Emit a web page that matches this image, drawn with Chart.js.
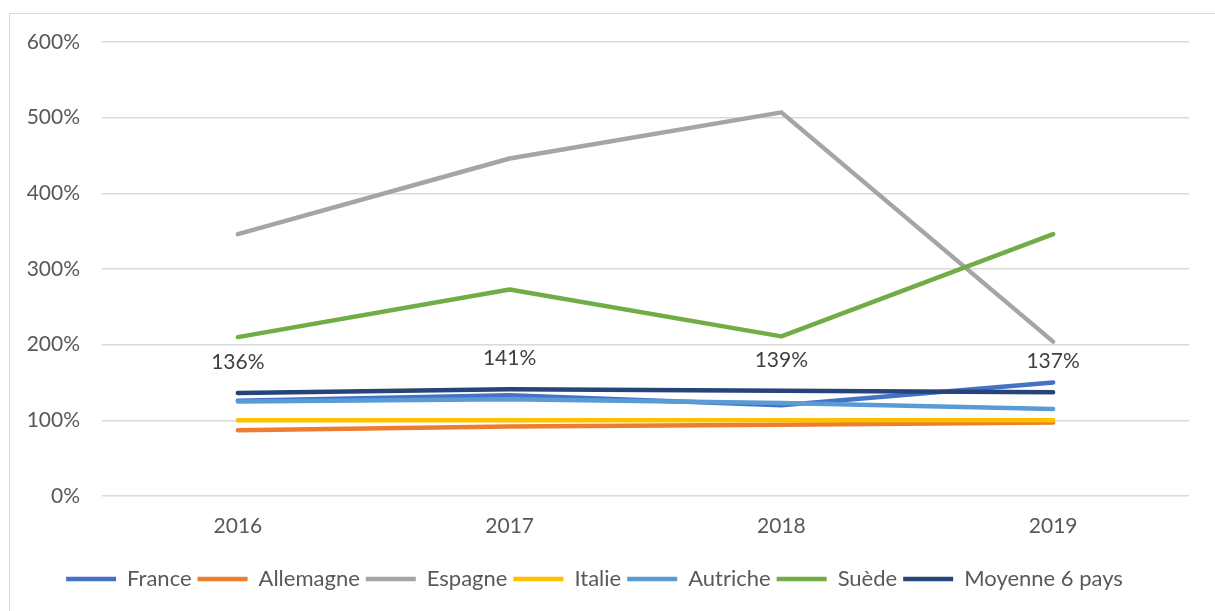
<!DOCTYPE html>
<html>
<head>
<meta charset="utf-8">
<script src="https://cdn.jsdelivr.net/npm/chart.js@4.4.1/dist/chart.umd.min.js"></script>
<style>
  html, body { margin: 0; padding: 0; background: #fff; }
  #frame { position: absolute; left: 9px; top: 13px; width: 1220px; height: 620px;
           border: 1px solid #d9d9d9; box-sizing: border-box; }
  #wrap { position: absolute; left: 0; top: 0; width: 1215px; height: 611px; }
</style>
</head>
<body>
<div id="frame"></div>
<div id="wrap"><canvas id="chart"></canvas></div>
<script>
// years on the x axis
const years = ['2016', '2017', '2018', '2019'];

// values in %
const france    = [126, 133, 120, 150];
const allemagne = [87, 92, 94, 97];
const espagne   = [346, 446, 507, 204];
const italie    = [100, 100, 100, 100];
const autriche  = [125, 128, 123, 115];
const suede     = [210, 273, 211, 346];
const moyenne   = [136, 141, 139, 137];

const seriesNames  = ['France', 'Allemagne', 'Espagne', 'Italie', 'Autriche', 'Suède', 'Moyenne 6 pays'];
const seriesData   = [france, allemagne, espagne, italie, autriche, suede, moyenne];
const seriesColors = ['#4472C4', '#ED7D31', '#A5A5A5', '#FFC000', '#5B9BD5', '#70AD47', '#264478'];

const yTicks = [0, 100, 200, 300, 400, 500, 600];

const FONT = 'Lato, "Open Sans", sans-serif';

// labels above the average line
const avgLabels = {
  id: 'avgLabels',
  afterDatasetsDraw(chart) {
    const idx = seriesNames.length - 1;
    const meta = chart.getDatasetMeta(idx);
    const ctx = chart.ctx;
    ctx.save();
    ctx.font = '21px ' + FONT;
    ctx.fillStyle = '#404040';
    ctx.textAlign = 'center';
    ctx.textBaseline = 'middle';
    meta.data.forEach((pt, i) => {
      ctx.fillText(moyenne[i] + '%', pt.x, pt.y - 31);
    });
    ctx.restore();
  }
};

const n = seriesNames.length;
new Chart(document.getElementById('chart'), {
  type: 'line',
  data: {
    labels: years,
    datasets: seriesNames.map((name, i) => ({
      label: name,
      data: seriesData[i],
      borderColor: seriesColors[i],
      backgroundColor: seriesColors[i],
      borderWidth: 4.5,
      borderCapStyle: 'round',
      borderJoinStyle: 'round',
      pointRadius: 0,
      tension: 0,
      order: n - i
    }))
  },
  options: {
    responsive: true,
    maintainAspectRatio: false,
    animation: false,
    layout: { padding: { top: 42, right: 26, bottom: 11, left: 0 } },
    plugins: {
      tooltip: { enabled: false },
      legend: {
        position: 'bottom',
        labels: {
          usePointStyle: true,
          pointStyle: 'line',
          pointStyleWidth: 50,
          padding: 6,
          color: '#595959',
          font: { family: FONT, size: 22 },
          sort: (a, b) => a.datasetIndex - b.datasetIndex
        }
      }
    },
    scales: {
      x: {
        offset: true,
        grid: { display: false, drawTicks: false },
        border: { display: false },
        ticks: { color: '#595959', font: { family: FONT, size: 21 }, padding: 18 },
        afterFit(s) { s.height = 66; }
      },
      y: {
        min: 0,
        max: 600,
        afterBuildTicks(s) { s.ticks = yTicks.map(v => ({ value: v })); },
        grid: { color: '#d9d9d9', lineWidth: 1.5, drawTicks: false },
        border: { display: false },
        ticks: {
          color: '#595959',
          font: { family: FONT, size: 21 },
          padding: 22,
          callback: v => v + '%'
        },
        afterFit(s) { s.width = 102; }
      }
    }
  },
  plugins: [avgLabels]
});
</script>
</body>
</html>
